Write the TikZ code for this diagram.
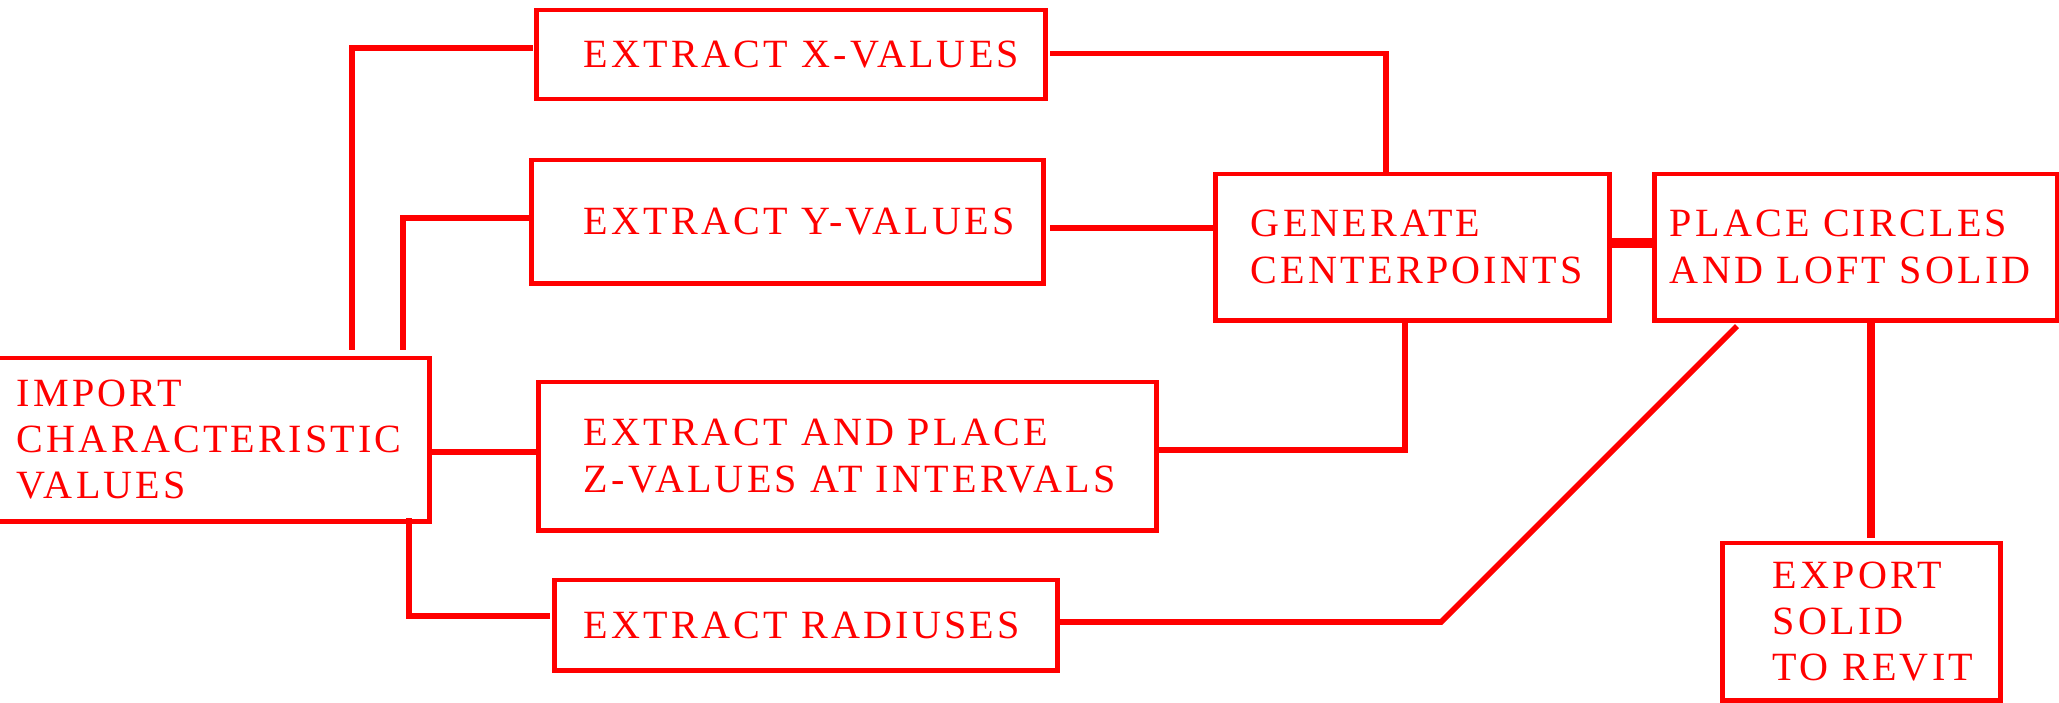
\documentclass[tikz,border=0pt]{standalone}
\usepackage{fontspec}
\newfontfamily\stagefont[LetterSpace=8, WordSpace=1.5]{Liberation Serif}
\begin{document}
\begin{tikzpicture}[x=0.01cm, y=-0.01cm,
		stage/.style n args={3}{draw=red, line width=1.4pt, text=red, outer sep=0pt,
			text width=#1, minimum height=#2, inner xsep=0pt, align=left,
			font=\stagefont\fontsize{11.4}{13.2}\selectfont,
			execute at begin node={\leftskip=#3}},
		link/.style={draw=red, line width=1.6pt}]
		\useasboundingbox (0,0) rectangle (2059,702);
		\node[stage={4.41cm}{1.63cm}{0.29cm}] (imp) at (208.5,439.5) {IMPORT\\CHARACTERISTIC\\VALUES};
		\node[stage={5.08cm}{0.89cm}{0.47cm}] (xv) at (791,54.5) {EXTRACT X-VALUES};
		\node[stage={5.11cm}{1.23cm}{0.52cm}] (yv) at (787.5,221.5) {EXTRACT Y-VALUES};
		\node[stage={6.17cm}{1.48cm}{0.45cm}] (zv) at (847.5,456) {EXTRACT AND PLACE\\Z-VALUES AT INTERVALS};
		\node[stage={5.02cm}{0.90cm}{0.29cm}] (rad) at (806,625) {EXTRACT RADIUSES};
		\node[stage={3.93cm}{1.46cm}{0.35cm}] (gen) at (1412.5,247) {GENERATE\\CENTERPOINTS};
		\node[stage={4.02cm}{1.46cm}{0.15cm}] (plc) at (1856,247) {PLACE CIRCLES\\AND LOFT SOLID};
		\node[stage={2.77cm}{1.57cm}{0.50cm}] (exp) at (1861.5,621.5) {EXPORT\\SOLID\\TO REVIT};
		% branches out of the import box
		\draw[link] ([shift={(-77,-8)}]imp.north east) |- ([shift={(-4,-6.5)}]xv.west);
		\draw[link] ([shift={(-26,-8)}]imp.north east) |- ([shift={(0,-3.5)}]yv.west);
		\draw[link] ([shift={(0,12.5)}]imp.east) -- ([shift={(0,-4)}]zv.west);
		\draw[link] ([shift={(-20,-3)}]imp.south east) |- ([shift={(-5,-9)}]rad.west);
		% into the centerpoints and the loft
		\draw[link] ([shift={(5,-1)}]xv.east) -| ([shift={(-26.5,0)}]gen.north);
		\draw[link] ([shift={(7,6.5)}]yv.east) -- ([shift={(0,-19)}]gen.west);
		\draw[link] ([shift={(0,-6)}]zv.east) -| ([shift={(-7.5,0)}]gen.south);
		\draw[link, line width=2.6pt] ([shift={(0,-4)}]gen.east) -- ([shift={(0,-4)}]plc.west);
		\draw[link] ([shift={(2,-3)}]rad.east) -- ++(382,0) -- ([shift={(-119,6)}]plc.south);
		\draw[link, line width=2pt] ([shift={(15,0)}]plc.south) -- ([shift={(9.5,-5)}]exp.north);
	%
	\end{tikzpicture}
\end{document}
